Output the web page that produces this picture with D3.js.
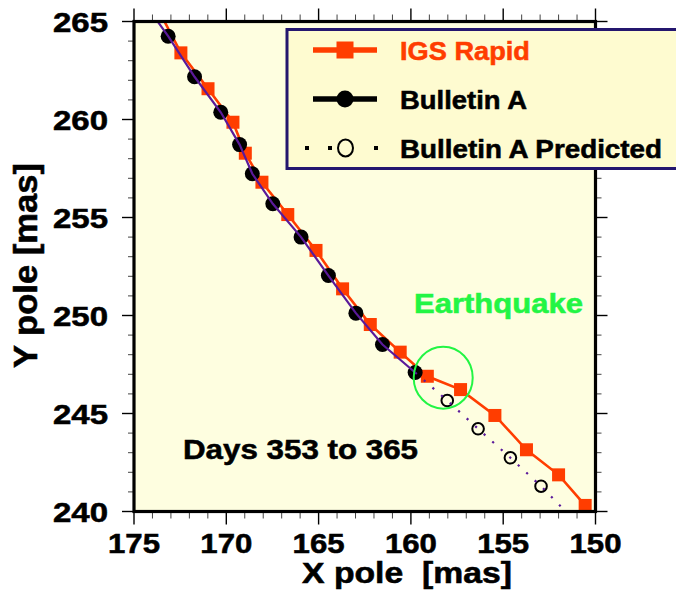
<!DOCTYPE html>
<html>
<head>
<meta charset="utf-8">
<script src="https://cdn.jsdelivr.net/npm/d3@7"></script>
<style>
  html, body { margin: 0; padding: 0; background: #ffffff; }
  svg { display: block; font-family: "Liberation Sans", Arial, Helvetica, sans-serif; font-weight: bold; }
  text { stroke-width: 0.55px; paint-order: stroke; }
</style>
</head>
<body>
<svg id="chart" width="676" height="598"></svg>
<script>
// ---- data ----
const igsX = [173.68, 172.46, 170.99, 169.64, 168.97, 168.07, 166.67, 165.14, 163.70, 162.20, 160.58, 159.11, 157.31, 155.45, 153.74, 152.00, 150.56];
const igsY = [265.60, 263.40, 261.57, 259.86, 258.28, 256.80, 255.15, 253.32, 251.36, 249.54, 248.13, 246.90, 246.22, 244.90, 243.15, 241.87, 240.31];

const bullX = [174.22, 173.15, 171.72, 170.30, 169.28, 168.59, 167.48, 165.95, 164.47, 162.98, 161.54, 159.77];
const bullY = [265.66, 264.25, 262.18, 260.37, 258.72, 257.23, 255.70, 254.00, 252.04, 250.12, 248.52, 247.09];

const predX = [158.03, 156.36, 154.61, 152.95, 151.20];
const predY = [245.66, 244.22, 242.74, 241.29, 239.60];

const xTicks = [175, 170, 165, 160, 155, 150];
const yTicks = [240, 245, 250, 255, 260, 265];
const xDomain = [175, 150];
const yDomain = [240, 265];

const seriesNames = ["IGS Rapid", "Bulletin A", "Bulletin A Predicted"];
const quakeLabel = "Earthquake";
const quakeCenter = [158.25, 246.83];
const daysLabel = "Days 353 to 365";
const xTitle = "X pole  [mas]";
const yTitle = "Y pole [mas]";

// ---- layout ----
const svg = d3.select("#chart");
const L = 134, R = 595.5, T = 21.5, B = 511.5;
const x = d3.scaleLinear().domain(xDomain).range([L, R]);
const y = d3.scaleLinear().domain(yDomain).range([B, T]);

const RED = "#ff3d00", PURPLE = "#5a1a9a", GREEN = "#22f544", NAVY = "#24166e";

// plot background
svg.append("rect").attr("x", L).attr("y", T).attr("width", R - L).attr("height", B - T)
  .attr("fill", "#fefee0");

// ticks (all four sides)
const minorX = d3.range(150, 176, 1), minorY = d3.range(240, 266, 1);
const tg = svg.append("g");
function tick(x1, y1, x2, y2, major) {
  tg.append("line").attr("x1", x1).attr("y1", y1).attr("x2", x2).attr("y2", y2)
    .attr("stroke", major ? "#000" : "#444").attr("stroke-width", major ? 1.4 : 1);
}
minorX.forEach(v => {
  const major = xTicks.includes(v);
  const len = major ? 13 : 7;
  tick(x(v), B, x(v), B + len, major);
  tick(x(v), T, x(v), T - len, major);
});
minorY.forEach(v => {
  const major = yTicks.includes(v);
  const len = major ? 12 : 6;
  tick(L, y(v), L - len, y(v), major);
  tick(R, y(v), R + len, y(v), major);
});

// clip
svg.append("clipPath").attr("id", "clip").append("rect")
  .attr("x", L).attr("y", T).attr("width", R - L).attr("height", B - T);
const plot = svg.append("g").attr("clip-path", "url(#clip)");

const igs = igsX.map((v, i) => [v, igsY[i]]);
const bull = bullX.map((v, i) => [v, bullY[i]]);
const pred = predX.map((v, i) => [v, predY[i]]);
const line = d3.line().x(d => x(d[0])).y(d => y(d[1]));

// IGS Rapid
plot.append("path").attr("d", line(igs)).attr("fill", "none").attr("stroke", RED).attr("stroke-width", 2.6);
plot.selectAll(".sq").data(igs.slice(1)).join("rect")
  .attr("x", d => x(d[0]) - 6.5).attr("y", d => y(d[1]) - 6.5)
  .attr("width", 13).attr("height", 13).attr("fill", RED);

// Bulletin A
plot.selectAll(".bc").data(bull.slice(1)).join("circle")
  .attr("cx", d => x(d[0])).attr("cy", d => y(d[1])).attr("r", 7.5).attr("fill", "#000");
plot.append("path").attr("d", line(bull)).attr("fill", "none").attr("stroke", PURPLE).attr("stroke-width", 2.2);

// Predicted
plot.selectAll(".pc").data(pred).join("circle")
  .attr("cx", d => x(d[0])).attr("cy", d => y(d[1])).attr("r", 5.8)
  .attr("fill", "none").attr("stroke", "#000").attr("stroke-width", 2);
plot.append("path").attr("d", line([bull[bull.length - 1]].concat(pred)))
  .attr("fill", "none").attr("stroke", PURPLE).attr("stroke-width", 2.2)
  .attr("stroke-dasharray", "2.2,9.3");

// Earthquake ellipse
svg.append("ellipse").attr("cx", x(quakeCenter[0])).attr("cy", y(quakeCenter[1]))
  .attr("rx", 29.5).attr("ry", 31).attr("fill", "none").attr("stroke", GREEN).attr("stroke-width", 2);

// frame
svg.append("rect").attr("x", L).attr("y", T).attr("width", R - L).attr("height", B - T)
  .attr("fill", "none").attr("stroke", "#000").attr("stroke-width", 3.2);

// tick labels
svg.append("g").selectAll("text").data(xTicks).join("text")
  .attr("x", d => x(d)).attr("y", 553).attr("text-anchor", "middle")
  .attr("font-size", 28).attr("textLength", 52).attr("lengthAdjust", "spacingAndGlyphs")
  .attr("stroke", "#000").text(d => d);
svg.append("g").selectAll("text").data(yTicks).join("text")
  .attr("x", 108).attr("y", d => y(d) + 10).attr("text-anchor", "end")
  .attr("font-size", 28).attr("textLength", 55).attr("lengthAdjust", "spacingAndGlyphs")
  .attr("stroke", "#000").text(d => d);

// axis titles
svg.append("text").attr("x", 302).attr("y", 583).attr("font-size", 29)
  .style("white-space", "pre").attr("textLength", 210).attr("lengthAdjust", "spacingAndGlyphs")
  .attr("stroke", "#000").text(xTitle);
svg.append("text").attr("transform", "translate(37,265.5) rotate(-90)").attr("text-anchor", "middle")
  .attr("font-size", 33).attr("textLength", 205).attr("lengthAdjust", "spacingAndGlyphs")
  .attr("stroke", "#000").text(yTitle);

// annotations
svg.append("text").attr("x", 183).attr("y", 459).attr("font-size", 28)
  .attr("textLength", 235).attr("lengthAdjust", "spacingAndGlyphs").attr("stroke", "#000").text(daysLabel);
svg.append("text").attr("x", 414).attr("y", 313).attr("font-size", 28).attr("fill", GREEN).attr("stroke", GREEN)
  .attr("textLength", 169).attr("lengthAdjust", "spacingAndGlyphs").text(quakeLabel);

// legend
const lg = svg.append("g");
lg.append("rect").attr("x", 287).attr("y", 29.5).attr("width", 400).attr("height", 139)
  .attr("fill", "#fefbd0").attr("stroke", NAVY).attr("stroke-width", 3);
const rowsY = [50, 99, 148];
const textW = [130, 127, 262];
const textCol = [RED, "#000", "#000"];
// IGS
lg.append("line").attr("x1", 313).attr("x2", 377).attr("y1", rowsY[0]).attr("y2", rowsY[0])
  .attr("stroke", RED).attr("stroke-width", 5.5);
lg.append("rect").attr("x", 345 - 8.5).attr("y", rowsY[0] - 8.5).attr("width", 17).attr("height", 17).attr("fill", RED);
// Bulletin A
lg.append("line").attr("x1", 313).attr("x2", 377).attr("y1", rowsY[1]).attr("y2", rowsY[1])
  .attr("stroke", "#000").attr("stroke-width", 5.5);
lg.append("circle").attr("cx", 345).attr("cy", rowsY[1]).attr("r", 8.5).attr("fill", "#000");
// Predicted
[307, 330, 376].forEach(px => {
  lg.append("rect").attr("x", px - 2).attr("y", rowsY[2] - 2).attr("width", 4).attr("height", 4).attr("fill", "#000");
});
lg.append("ellipse").attr("cx", 345.5).attr("cy", rowsY[2]).attr("rx", 7.5).attr("ry", 8.5)
  .attr("fill", "none").attr("stroke", "#000").attr("stroke-width", 2);
seriesNames.forEach((s, i) => {
  lg.append("text").attr("x", 400).attr("y", rowsY[i] + 9.5).attr("font-size", 26)
    .attr("fill", textCol[i]).attr("stroke", textCol[i])
    .attr("textLength", textW[i]).attr("lengthAdjust", "spacingAndGlyphs").text(s);
});
</script>
</body>
</html>
